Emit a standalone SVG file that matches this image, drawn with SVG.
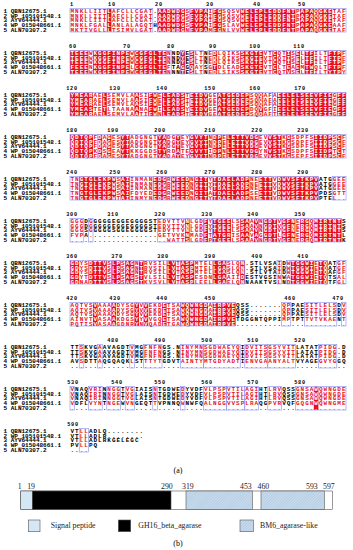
<svg xmlns="http://www.w3.org/2000/svg" xmlns:xlink="http://www.w3.org/1999/xlink" width="353" height="550" viewBox="0 0 353 550">
<style>
.nm{font-family:"Liberation Mono",monospace;font-size:6px;font-weight:bold;fill:#000}
.sq{font-family:"Liberation Mono",monospace;font-size:6px;font-weight:bold;letter-spacing:1px}
.num{font-family:"Liberation Mono",monospace;font-size:5.2px;font-weight:bold;letter-spacing:0.8px;text-anchor:middle;fill:#000}
.fr{fill:none;stroke:#8a8af0;stroke-width:0.6}
.lab{font-family:"Liberation Serif",serif;font-size:7.8px;fill:#222}
.cap{font-family:"Liberation Serif",serif;font-size:8px;fill:#000;text-anchor:middle}
.seg{stroke:#555;stroke-width:0.6}
</style>
<defs>
<pattern id="hatch" patternUnits="userSpaceOnUse" width="2" height="2" patternTransform="rotate(45)"><rect width="2" height="2" fill="#c8ddef"/><line x1="0" y1="0" x2="0" y2="2" stroke="#8ea8bf" stroke-width="0.6"/></pattern>
<g id="names" class="nm">
<text x="3.5" y="13">1 QBN12675.1</text>
<text x="3.5" y="17.67">2 WP_105101548.1</text>
<text x="3.5" y="22.33">3 AYV64444.1</text>
<text x="3.5" y="27">4 WP_015048661.1</text>
<text x="3.5" y="31.67">5 ALN70307.2</text>
</g>
<g id="s0" class="sq">
<text x="70.5" y="13">MNKLLIITLAFCLLCGAT.AADWDGSFVPAIFGSQSVWELEPLEDDFNTPAPAQGKETAF</text>
<text x="70.5" y="17.67">MNKLLIITLAFCLLCGAT.AADWDGSFVPAIFGSQSVWELEPLEDDFNTPAPAQGKETAF</text>
<text x="70.5" y="22.33">MNKLLIITLAFCLLCGAT.AADWDGSFVPAIFGSQSVWELEPLEDDFNTPAPAQGKETAF</text>
<text x="70.5" y="27">MNKLFGALLANLALAGQTHAADWDGSFVPAIFGSLAVWELEPLEDDFNTPAPAQGKEAAF</text>
<text x="70.5" y="31.67">MKTIVGLLLTSIMVLGAT.AADWDGNFVPAMFGNLVVWELEPLEDDFNTPAPAQGKETAF</text>
</g>
<g id="s1" class="sq">
<text x="70.5" y="13">TEEEWKGGFINPEWCGFGLTENNDYESLTNEDLQIKSSKGTEVTCQTISELTFILTFTPF</text>
<text x="70.5" y="17.67">TEEEWKGGFINPEWCGFGLTENNDYESLTNEDLQIKSSKGTEVTCQTISELTFILTFTPF</text>
<text x="70.5" y="22.33">TEEEWKGGFINPEWCGFGLTENNDYESLTNEDLQIKSSKGTEVTCQTISELTFILTFTPF</text>
<text x="70.5" y="27">FEEENKGGFINPELCGFGLTEFTAGGQAYSGTDLEADSKGTEVTCLTEAEMTWQLTFTPF</text>
<text x="70.5" y="31.67">TEEEWKGGFINPEWCGFGLTENNNTESLTNEDLSIKSSKGTEVTCQTVSELTFILTYTPY</text>
</g>
<g id="s2" class="sq">
<text x="70.5" y="13">YMEARAELSEMVLAASIFWELEADSTEIDVGEATGEDEPSQQAFAEELELSEEVFIEGFF</text>
<text x="70.5" y="17.67">YMEARAELSEMVLAASIFWELEADSTEIDVGEATGEDEPSQQAFAEELELSEEVFIEGFF</text>
<text x="70.5" y="22.33">YMEARAELSEMVLAASIFWELEADSTEIDVGEATGEDEPSQQAFAEELELSEEVFIEGFF</text>
<text x="70.5" y="27">YMEASTETLTAANAANAFWILEADSYEIDVGEATGEDEPDQVGFIEELELSEEVFIEGFF</text>
<text x="70.5" y="31.67">YMEARAELSEMVLAATIFWNLEADSTEIDVGEATGEDEPSQQAFTEELELSEEVFIEGFF</text>
</g>
<g id="s3" class="sq">
<text x="70.5" y="13">QDTQPFDAGESYTADGNGTYADGYEYGVYTNDPELETTVDGEVVSTKGSDPFSIIDPSCF</text>
<text x="70.5" y="17.67">QDTQPFDAGESYTADGNGTYADGYEYGVYTNDPELETTVDGEVVSTKGSDPFSIIDPSCF</text>
<text x="70.5" y="22.33">QDTQPFDAGESYTADGNGTYADGYEYGVYTNDPELETTVDGEVVSTKGSDPFSIIDPSCF</text>
<text x="70.5" y="27">QDTQPKDSGEAYTKKGGDSTYRDATEGVYTIDPNLETTVDGYNVSTKGSDPFSIIDPTCT</text>
<text x="70.5" y="31.67">QDTQPFDAGESYTADGNGTYADAYEYGVYTNDPELETTVDGEVVSTKGSEPFSIIDPSCF</text>
</g>
<g id="s4" class="sq">
<text x="70.5" y="13">TNGTGLEKPWSAIINMANEDGRWEEDNGITYTDAELADPNEETTVDWVSFTKPVATGGEE</text>
<text x="70.5" y="17.67">TNGTGLEKPWSAIINMANEDGRWEEDNGITYTDAELADPNEETTVDWVSFTKPVATGGEE</text>
<text x="70.5" y="22.33">TNGTGLEKPWSAIINMANEDGRWEEDNGITYTDAELADPNEETTVDWVSFTKPVATGGEE</text>
<text x="70.5" y="27">TNGTGLEKPWSAIFDYEDEDGRWEEDNGITATDAELADPSEETTVDWVSFTKPVPDSGTT</text>
<text x="70.5" y="31.67">TNGTGLEKPWTAIINMYNEDGRWEEDNGITYTDAELADPNEETTVDWVSFTKPVPTEL..</text>
</g>
<g id="s5" class="sq">
<text x="70.5" y="13">GGGDGGGGGEGGEGGGGSTEDVTTVNLGDFYTGEELSSAAVNGDTVGFNERGQMIRTNTS</text>
<text x="70.5" y="17.67">GGGDGGGGGEGGEGGGGSTEDVTTVNLGDFYTGEELSSAAVNGDTVGFNERGQMIRTNTS</text>
<text x="70.5" y="22.33">GGGSGGGGGSGGEGGGGSTEDVTTVNLGDFYTGEELSSAAVNGDTVGFNERGQMIRTNTS</text>
<text x="70.5" y="27">FVPA...............GETVVKNMADFTATGRISAAVAGGDTLGFNERGQMIRTNTL</text>
<text x="70.5" y="31.67">.....................WATTSLGDFPTGEELSSAAVNGDTVGFNERGQMIRTNTK</text>
</g>
<g id="s6" class="sq">
<text x="70.5" y="13">GDYSDTTVSLPSAGNTRVSILLVTASPMTELLGASLQN.STLVSAIDWTGGWIETQATGF</text>
<text x="70.5" y="17.67">GDYSDTTVSLPSAGNTRVSILLVTASPMTELLGASLQN.STLVSAIDWTGGWIETQATGF</text>
<text x="70.5" y="22.33">GDYSDTTVSLPSAGNTRVSILLVTASPMTELLGASLQN.STLVTAIDWTGGWIETQAFGF</text>
<text x="70.5" y="27">GDYTDTTVSLPSAGSTVLSILLVTASPESDNLGAAIIDESTVGSINWATGGWIETQTSAL</text>
<text x="70.5" y="31.67">GDNADTTVSLPSAGSTKVSVLLVTASPLEELLGAELQNNAAKTVSLNDTGGWIETQTFGL</text>
</g>
<g id="s7" class="sq">
<text x="70.5" y="13">AQTVSVAAAADYSGYVVEKDETSAWQWNGDAIRPVEQSS.......QPPAESITLELSDV</text>
<text x="70.5" y="17.67">AQTVSVAAAADYSGYVVEKDETSAWQWNGDAIRPVEQSS.......QPPAESITLELSDV</text>
<text x="70.5" y="22.33">AQTVSVAAAADYSGYVVEKDETSAWQWNGDAIRPVEQSS.......QPPAESITLELSDV</text>
<text x="70.5" y="27">AINVTVASAAKDGSYYVVGQETSAWQWNGDAIRPVETDGGNTQPPIMPTPTTVTVKAENT</text>
<text x="70.5" y="31.67">PQTISVASAAGDNRYNVQADETGAWQWNGDAIRPVE........................</text>
</g>
<g id="s8" class="sq">
<text x="70.5" y="13">TTSKVGAAVAGDTVMGFNFNGS.NINYMNSGDWAEYQIDVITSGSYVITLATATPIDG.D</text>
<text x="70.5" y="17.67">TTSKVGAAVAGDTVMGFNFNGS.NINYMNSGDWAEYQIDVITSGSYVITLATATPIDG.D</text>
<text x="70.5" y="22.33">TTSKVGAAVAGDTVMGFNFNGS.NINYMNSGDWAEYQIDVITSGSYVITLATATPIDG.D</text>
<text x="70.5" y="27">AVSDTTAQGQAQKLSTTTYTGDVTAINTYMTGDYADTIENVGAANYALTVYAGEGVYGGQ</text>
<text x="70.5" y="31.67">............................................................</text>
</g>
<g id="s9" class="sq">
<text x="70.5" y="13">VNAQVRINNGGTVGIAISNTGDWEDYVDFVLPSPVTILAGIHTLRVQSSGNSAWQWNGDE</text>
<text x="70.5" y="17.67">VNAQIRINNGGTVGLAISNTGDWEDYVDFVLPSPVTILAGIHTLRVQSSGNSAWQWNGDE</text>
<text x="70.5" y="22.33">VNAQIRINNGGTVGLAISNTGDWEDYVDFVLPSPVTILAGIHTLRVQSSGNSAWQWNGDE</text>
<text x="70.5" y="27">VDFLVYNTNGEWVNGEQTTVPNNQWNWFQALNGGVVSPLRAQGPVRVQFGQGNWQWNGME</text>
<text x="70.5" y="31.67">............................................................</text>
</g>
<g id="s10" class="sq">
<text x="70.5" y="13">VTLLADLQ........</text>
<text x="70.5" y="17.67">VTLLADLR........</text>
<text x="70.5" y="22.33">VTLLADLRKGELEGC</text>
<text x="70.5" y="27">PVLLPQ</text>
<text x="70.5" y="31.67">....</text>
</g>
<clipPath id="r0"><rect x="106.8" y="0" width="4.6" height="40"/><rect x="157.4" y="0" width="27.6" height="40"/><rect x="189.6" y="0" width="18.4" height="40"/><rect x="212.6" y="0" width="9.2" height="40"/><rect x="240.2" y="0" width="55.2" height="40"/><rect x="300" y="0" width="13.8" height="40"/><rect x="318.4" y="0" width="13.8" height="40"/></clipPath>
<clipPath id="b0"><rect x="70" y="0" width="36.8" height="40"/><rect x="111.4" y="0" width="41.4" height="40"/><rect x="185" y="0" width="4.6" height="40"/><rect x="208" y="0" width="4.6" height="40"/><rect x="221.8" y="0" width="18.4" height="40"/><rect x="295.4" y="0" width="4.6" height="40"/><rect x="313.8" y="0" width="4.6" height="40"/><rect x="332.2" y="0" width="13.8" height="40"/></clipPath>
<clipPath id="r1"><rect x="70" y="0" width="18.4" height="40"/><rect x="93" y="0" width="36.8" height="40"/><rect x="134.4" y="0" width="32.2" height="40"/><rect x="180.4" y="0" width="4.6" height="40"/><rect x="189.6" y="0" width="4.6" height="40"/><rect x="212.6" y="0" width="4.6" height="40"/><rect x="240.2" y="0" width="23" height="40"/><rect x="272.4" y="0" width="4.6" height="40"/><rect x="286.2" y="0" width="4.6" height="40"/><rect x="295.4" y="0" width="4.6" height="40"/><rect x="304.6" y="0" width="9.2" height="40"/><rect x="327.6" y="0" width="13.8" height="40"/></clipPath>
<clipPath id="b1"><rect x="88.4" y="0" width="4.6" height="40"/><rect x="129.8" y="0" width="4.6" height="40"/><rect x="166.6" y="0" width="4.6" height="40"/><rect x="194.2" y="0" width="9.2" height="40"/><rect x="208" y="0" width="4.6" height="40"/><rect x="217.2" y="0" width="23" height="40"/><rect x="263.2" y="0" width="9.2" height="40"/><rect x="277" y="0" width="9.2" height="40"/><rect x="290.8" y="0" width="4.6" height="40"/><rect x="300" y="0" width="4.6" height="40"/><rect x="313.8" y="0" width="13.8" height="40"/><rect x="341.4" y="0" width="4.6" height="40"/></clipPath>
<clipPath id="r2"><rect x="70" y="0" width="23" height="40"/><rect x="102.2" y="0" width="4.6" height="40"/><rect x="134.4" y="0" width="4.6" height="40"/><rect x="148.2" y="0" width="9.2" height="40"/><rect x="162" y="0" width="23" height="40"/><rect x="189.6" y="0" width="18.4" height="40"/><rect x="217.2" y="0" width="32.2" height="40"/><rect x="258.6" y="0" width="4.6" height="40"/><rect x="277" y="0" width="55.2" height="40"/><rect x="336.8" y="0" width="9.2" height="40"/></clipPath>
<clipPath id="b2"><rect x="93" y="0" width="9.2" height="40"/><rect x="106.8" y="0" width="27.6" height="40"/><rect x="139" y="0" width="9.2" height="40"/><rect x="157.4" y="0" width="4.6" height="40"/><rect x="185" y="0" width="4.6" height="40"/><rect x="208" y="0" width="9.2" height="40"/><rect x="249.4" y="0" width="9.2" height="40"/><rect x="263.2" y="0" width="13.8" height="40"/><rect x="332.2" y="0" width="4.6" height="40"/></clipPath>
<clipPath id="r3"><rect x="70" y="0" width="23" height="40"/><rect x="97.6" y="0" width="4.6" height="40"/><rect x="106.8" y="0" width="4.6" height="40"/><rect x="120.6" y="0" width="9.2" height="40"/><rect x="157.4" y="0" width="9.2" height="40"/><rect x="175.8" y="0" width="4.6" height="40"/><rect x="189.6" y="0" width="18.4" height="40"/><rect x="212.6" y="0" width="9.2" height="40"/><rect x="226.4" y="0" width="32.2" height="40"/><rect x="267.8" y="0" width="13.8" height="40"/><rect x="286.2" y="0" width="4.6" height="40"/><rect x="313.8" y="0" width="18.4" height="40"/><rect x="336.8" y="0" width="4.6" height="40"/></clipPath>
<clipPath id="b3"><rect x="93" y="0" width="4.6" height="40"/><rect x="102.2" y="0" width="4.6" height="40"/><rect x="111.4" y="0" width="9.2" height="40"/><rect x="129.8" y="0" width="27.6" height="40"/><rect x="166.6" y="0" width="9.2" height="40"/><rect x="180.4" y="0" width="9.2" height="40"/><rect x="208" y="0" width="4.6" height="40"/><rect x="221.8" y="0" width="4.6" height="40"/><rect x="258.6" y="0" width="9.2" height="40"/><rect x="281.6" y="0" width="4.6" height="40"/><rect x="290.8" y="0" width="23" height="40"/><rect x="332.2" y="0" width="4.6" height="40"/><rect x="341.4" y="0" width="4.6" height="40"/></clipPath>
<clipPath id="r4"><rect x="79.2" y="0" width="36.8" height="40"/><rect x="120.6" y="0" width="9.2" height="40"/><rect x="152.8" y="0" width="13.8" height="40"/><rect x="171.2" y="0" width="18.4" height="40"/><rect x="194.2" y="0" width="13.8" height="40"/><rect x="212.6" y="0" width="36.8" height="40"/><rect x="258.6" y="0" width="13.8" height="40"/><rect x="277" y="0" width="41.4" height="40"/></clipPath>
<clipPath id="b4"><rect x="70" y="0" width="9.2" height="40"/><rect x="116" y="0" width="4.6" height="40"/><rect x="129.8" y="0" width="23" height="40"/><rect x="166.6" y="0" width="4.6" height="40"/><rect x="189.6" y="0" width="4.6" height="40"/><rect x="208" y="0" width="4.6" height="40"/><rect x="249.4" y="0" width="9.2" height="40"/><rect x="272.4" y="0" width="4.6" height="40"/><rect x="332.2" y="0" width="13.8" height="40"/></clipPath>
<clipPath id="r5"><rect x="185" y="0" width="4.6" height="40"/><rect x="203.4" y="0" width="4.6" height="40"/><rect x="212.6" y="0" width="18.4" height="40"/><rect x="240.2" y="0" width="9.2" height="40"/><rect x="254" y="0" width="4.6" height="40"/><rect x="263.2" y="0" width="13.8" height="40"/><rect x="281.6" y="0" width="13.8" height="40"/><rect x="300" y="0" width="9.2" height="40"/><rect x="313.8" y="0" width="27.6" height="40"/></clipPath>
<clipPath id="b5"><rect x="70" y="0" width="13.8" height="40"/><rect x="88.4" y="0" width="4.6" height="40"/><rect x="157.4" y="0" width="27.6" height="40"/><rect x="189.6" y="0" width="13.8" height="40"/><rect x="208" y="0" width="4.6" height="40"/><rect x="231" y="0" width="9.2" height="40"/><rect x="249.4" y="0" width="4.6" height="40"/><rect x="258.6" y="0" width="4.6" height="40"/><rect x="277" y="0" width="4.6" height="40"/><rect x="295.4" y="0" width="4.6" height="40"/><rect x="309.2" y="0" width="4.6" height="40"/></clipPath>
<clipPath id="r6"><rect x="70" y="0" width="9.2" height="40"/><rect x="88.4" y="0" width="18.4" height="40"/><rect x="111.4" y="0" width="9.2" height="40"/><rect x="125.2" y="0" width="9.2" height="40"/><rect x="139" y="0" width="4.6" height="40"/><rect x="166.6" y="0" width="9.2" height="40"/><rect x="180.4" y="0" width="13.8" height="40"/><rect x="212.6" y="0" width="13.8" height="40"/><rect x="240.2" y="0" width="4.6" height="40"/><rect x="290.8" y="0" width="23" height="40"/><rect x="318.4" y="0" width="9.2" height="40"/></clipPath>
<clipPath id="b6"><rect x="79.2" y="0" width="9.2" height="40"/><rect x="106.8" y="0" width="4.6" height="40"/><rect x="120.6" y="0" width="4.6" height="40"/><rect x="134.4" y="0" width="4.6" height="40"/><rect x="143.6" y="0" width="23" height="40"/><rect x="175.8" y="0" width="4.6" height="40"/><rect x="194.2" y="0" width="18.4" height="40"/><rect x="226.4" y="0" width="13.8" height="40"/><rect x="277" y="0" width="4.6" height="40"/><rect x="286.2" y="0" width="4.6" height="40"/><rect x="313.8" y="0" width="4.6" height="40"/><rect x="336.8" y="0" width="9.2" height="40"/></clipPath>
<clipPath id="r7"><rect x="93" y="0" width="4.6" height="40"/><rect x="111.4" y="0" width="4.6" height="40"/><rect x="134.4" y="0" width="4.6" height="40"/><rect x="143.6" y="0" width="4.6" height="40"/><rect x="162" y="0" width="4.6" height="40"/><rect x="180.4" y="0" width="27.6" height="40"/><rect x="212.6" y="0" width="23" height="40"/></clipPath>
<clipPath id="b7"><rect x="70" y="0" width="23" height="40"/><rect x="97.6" y="0" width="13.8" height="40"/><rect x="116" y="0" width="18.4" height="40"/><rect x="139" y="0" width="4.6" height="40"/><rect x="148.2" y="0" width="13.8" height="40"/><rect x="166.6" y="0" width="13.8" height="40"/><rect x="208" y="0" width="4.6" height="40"/><rect x="281.6" y="0" width="9.2" height="40"/><rect x="304.6" y="0" width="32.2" height="40"/><rect x="341.4" y="0" width="4.6" height="40"/></clipPath>
<clipPath id="b8"><rect x="79.2" y="0" width="4.6" height="40"/><rect x="97.6" y="0" width="4.6" height="40"/><rect x="129.8" y="0" width="4.6" height="40"/><rect x="143.6" y="0" width="18.4" height="40"/><rect x="180.4" y="0" width="23" height="40"/><rect x="203.4" y="0" width="36.8" height="40"/><rect x="244.8" y="0" width="23" height="40"/><rect x="267.8" y="0" width="27.6" height="40"/><rect x="318.4" y="0" width="18.4" height="40"/></clipPath>
<clipPath id="r9"><rect x="313.8" y="0" width="4.6" height="40"/></clipPath>
<clipPath id="b9"><rect x="70" y="0" width="4.6" height="40"/><rect x="88.4" y="0" width="13.8" height="40"/><rect x="106.8" y="0" width="13.8" height="40"/><rect x="125.2" y="0" width="9.2" height="40"/><rect x="152.8" y="0" width="4.6" height="40"/><rect x="180.4" y="0" width="4.6" height="40"/><rect x="203.4" y="0" width="23" height="40"/><rect x="226.4" y="0" width="18.4" height="40"/><rect x="244.8" y="0" width="13.8" height="40"/><rect x="267.8" y="0" width="13.8" height="40"/><rect x="295.4" y="0" width="18.4" height="40"/><rect x="318.4" y="0" width="18.4" height="40"/><rect x="336.8" y="0" width="9.2" height="40"/></clipPath>
<clipPath id="b10"><rect x="79.2" y="0" width="9.2" height="40"/></clipPath>
</defs>
<rect width="353" height="550" fill="#fff"/>

<g id="alignment-a">
<g id="block1">
<text class="num" x="72" y="6">1</text><text class="num" x="112" y="6">10</text><text class="num" x="159" y="6">20</text><text class="num" x="210" y="6">30</text><text class="num" x="257" y="6">40</text><text class="num" x="302" y="6">50</text>
<use href="#names"/>
<use href="#s0"/>
<rect x="70" y="8.67" width="276" height="23.33" fill="#fff" clip-path="url(#b0)"/>
<rect x="70" y="8.67" width="276" height="23.33" fill="#e8101e" clip-path="url(#r0)"/>
<use href="#s0" fill="#e8101e" clip-path="url(#b0)"/>
<use href="#s0" fill="#fff" clip-path="url(#r0)"/>
<rect class="fr" x="70" y="8.67" width="82.8" height="23.33"/><rect class="fr" x="157.4" y="8.67" width="188.6" height="23.33"/>
</g>
<g id="block2" transform="translate(0,42)">
<text class="num" x="73" y="6">60</text><text class="num" x="127" y="6">70</text><text class="num" x="171" y="6">80</text><text class="num" x="213" y="6">90</text><text class="num" x="255" y="6">100</text><text class="num" x="299" y="6">110</text>
<use href="#names"/>
<use href="#s1"/>
<rect x="70" y="8.67" width="276" height="23.33" fill="#fff" clip-path="url(#b1)"/>
<rect x="70" y="8.67" width="276" height="23.33" fill="#e8101e" clip-path="url(#r1)"/>
<use href="#s1" fill="#e8101e" clip-path="url(#b1)"/>
<use href="#s1" fill="#fff" clip-path="url(#r1)"/>
<rect class="fr" x="70" y="8.67" width="101.2" height="23.33"/><rect class="fr" x="180.4" y="8.67" width="4.6" height="23.33"/><rect class="fr" x="189.6" y="8.67" width="13.8" height="23.33"/><rect class="fr" x="208" y="8.67" width="138" height="23.33"/>
</g>
<g id="block3" transform="translate(0,84)">
<text class="num" x="72" y="6">120</text><text class="num" x="115" y="6">130</text><text class="num" x="162" y="6">140</text><text class="num" x="210" y="6">150</text><text class="num" x="255" y="6">160</text><text class="num" x="300" y="6">170</text>
<use href="#names"/>
<use href="#s2"/>
<rect x="70" y="8.67" width="276" height="23.33" fill="#fff" clip-path="url(#b2)"/>
<rect x="70" y="8.67" width="276" height="23.33" fill="#e8101e" clip-path="url(#r2)"/>
<use href="#s2" fill="#e8101e" clip-path="url(#b2)"/>
<use href="#s2" fill="#fff" clip-path="url(#r2)"/>
<rect class="fr" x="70" y="8.67" width="87.4" height="23.33"/><rect class="fr" x="157.4" y="8.67" width="115" height="23.33"/><rect class="fr" x="272.4" y="8.67" width="73.6" height="23.33"/>
</g>
<g id="block4" transform="translate(0,126)">
<text class="num" x="72" y="6">180</text><text class="num" x="113" y="6">190</text><text class="num" x="160" y="6">200</text><text class="num" x="210" y="6">210</text><text class="num" x="257" y="6">220</text><text class="num" x="303" y="6">230</text>
<use href="#names"/>
<use href="#s3"/>
<rect x="70" y="8.67" width="276" height="23.33" fill="#fff" clip-path="url(#b3)"/>
<rect x="70" y="8.67" width="276" height="23.33" fill="#e8101e" clip-path="url(#r3)"/>
<use href="#s3" fill="#e8101e" clip-path="url(#b3)"/>
<use href="#s3" fill="#fff" clip-path="url(#r3)"/>
<rect class="fr" x="70" y="8.67" width="59.8" height="23.33"/><rect class="fr" x="129.8" y="8.67" width="59.8" height="23.33"/><rect class="fr" x="189.6" y="8.67" width="156.4" height="23.33"/>
</g>
<g id="block5" transform="translate(0,168)">
<text class="num" x="72" y="6">240</text><text class="num" x="115" y="6">250</text><text class="num" x="162" y="6">260</text><text class="num" x="210" y="6">270</text><text class="num" x="257" y="6">280</text><text class="num" x="303" y="6">290</text>
<use href="#names"/>
<use href="#s4"/>
<rect x="70" y="8.67" width="276" height="23.33" fill="#fff" clip-path="url(#b4)"/>
<rect x="70" y="8.67" width="276" height="23.33" fill="#e8101e" clip-path="url(#r4)"/>
<use href="#s4" fill="#e8101e" clip-path="url(#b4)"/>
<use href="#s4" fill="#fff" clip-path="url(#r4)"/>
<rect class="fr" x="70" y="8.67" width="59.8" height="23.33"/><rect class="fr" x="129.8" y="8.67" width="188.6" height="23.33"/><rect class="fr" x="332.2" y="8.67" width="13.8" height="23.33"/>
</g>
<g id="block6" transform="translate(0,210)">
<text class="num" x="72" y="6">300</text><text class="num" x="113" y="6">310</text><text class="num" x="160" y="6">320</text><text class="num" x="207" y="6">330</text><text class="num" x="253" y="6">340</text><text class="num" x="300" y="6">350</text>
<use href="#names"/>
<use href="#s5"/>
<rect x="70" y="8.67" width="276" height="23.33" fill="#fff" clip-path="url(#b5)"/>
<rect x="70" y="8.67" width="276" height="23.33" fill="#e8101e" clip-path="url(#r5)"/>
<use href="#s5" fill="#e8101e" clip-path="url(#b5)"/>
<use href="#s5" fill="#fff" clip-path="url(#r5)"/>
<rect class="fr" x="70" y="8.67" width="13.8" height="23.33"/><rect class="fr" x="88.4" y="8.67" width="4.6" height="23.33"/><rect class="fr" x="157.4" y="8.67" width="55.2" height="23.33"/><rect class="fr" x="212.6" y="8.67" width="128.8" height="23.33"/>
</g>
<g id="block7" transform="translate(0,252)">
<text class="num" x="72" y="6">360</text><text class="num" x="117" y="6">370</text><text class="num" x="163" y="6">380</text><text class="num" x="210" y="6">390</text><text class="num" x="257" y="6">400</text><text class="num" x="303" y="6">410</text>
<use href="#names"/>
<use href="#s6"/>
<rect x="70" y="8.67" width="276" height="23.33" fill="#fff" clip-path="url(#b6)"/>
<rect x="70" y="8.67" width="276" height="23.33" fill="#e8101e" clip-path="url(#r6)"/>
<use href="#s6" fill="#e8101e" clip-path="url(#b6)"/>
<use href="#s6" fill="#fff" clip-path="url(#r6)"/>
<rect class="fr" x="70" y="8.67" width="73.6" height="23.33"/><rect class="fr" x="143.6" y="8.67" width="101.2" height="23.33"/><rect class="fr" x="277" y="8.67" width="4.6" height="23.33"/><rect class="fr" x="286.2" y="8.67" width="41.4" height="23.33"/><rect class="fr" x="336.8" y="8.67" width="9.2" height="23.33"/>
</g>
<g id="block8" transform="translate(0,294)">
<text class="num" x="72" y="6">420</text><text class="num" x="115" y="6">430</text><text class="num" x="162" y="6">440</text><text class="num" x="210" y="6">450</text><text class="num" x="290" y="6">460</text><text class="num" x="338" y="6">470</text>
<use href="#names"/>
<use href="#s7"/>
<rect x="70" y="8.67" width="276" height="23.33" fill="#fff" clip-path="url(#b7)"/>
<rect x="70" y="8.67" width="276" height="23.33" fill="#e8101e" clip-path="url(#r7)"/>
<use href="#s7" fill="#e8101e" clip-path="url(#b7)"/>
<use href="#s7" fill="#fff" clip-path="url(#r7)"/>
<rect class="fr" x="70" y="8.67" width="110.4" height="23.33"/><rect class="fr" x="180.4" y="8.67" width="55.2" height="23.33"/><rect class="fr" x="281.6" y="8.67" width="9.2" height="23.33"/><rect class="fr" x="304.6" y="8.67" width="32.2" height="23.33"/><rect class="fr" x="341.4" y="8.67" width="4.6" height="23.33"/>
</g>
<g id="block9" transform="translate(0,336)">
<text class="num" x="113" y="6">480</text><text class="num" x="160" y="6">490</text><text class="num" x="207" y="6">500</text><text class="num" x="253" y="6">510</text><text class="num" x="300" y="6">520</text>
<use href="#names"/>
<use href="#s8"/>
<rect x="70" y="8.67" width="276" height="23.33" fill="#fff" clip-path="url(#b8)"/>
<use href="#s8" fill="#e8101e" clip-path="url(#b8)"/>
<rect class="fr" x="79.2" y="8.67" width="4.6" height="23.33"/><rect class="fr" x="97.6" y="8.67" width="4.6" height="23.33"/><rect class="fr" x="129.8" y="8.67" width="4.6" height="23.33"/><rect class="fr" x="143.6" y="8.67" width="18.4" height="23.33"/><rect class="fr" x="180.4" y="8.67" width="23" height="23.33"/><rect class="fr" x="203.4" y="8.67" width="36.8" height="23.33"/><rect class="fr" x="244.8" y="8.67" width="23" height="23.33"/><rect class="fr" x="267.8" y="8.67" width="27.6" height="23.33"/><rect class="fr" x="318.4" y="8.67" width="18.4" height="23.33"/>
</g>
<g id="block10" transform="translate(0,378)">
<text class="num" x="73" y="6">530</text><text class="num" x="117" y="6">540</text><text class="num" x="160" y="6">550</text><text class="num" x="207" y="6">560</text><text class="num" x="253" y="6">570</text><text class="num" x="300" y="6">580</text>
<use href="#names"/>
<use href="#s9"/>
<rect x="70" y="8.67" width="276" height="23.33" fill="#fff" clip-path="url(#b9)"/>
<rect x="70" y="8.67" width="276" height="23.33" fill="#e8101e" clip-path="url(#r9)"/>
<use href="#s9" fill="#e8101e" clip-path="url(#b9)"/>
<use href="#s9" fill="#fff" clip-path="url(#r9)"/>
<rect class="fr" x="70" y="8.67" width="4.6" height="23.33"/><rect class="fr" x="88.4" y="8.67" width="13.8" height="23.33"/><rect class="fr" x="106.8" y="8.67" width="13.8" height="23.33"/><rect class="fr" x="125.2" y="8.67" width="9.2" height="23.33"/><rect class="fr" x="152.8" y="8.67" width="4.6" height="23.33"/><rect class="fr" x="180.4" y="8.67" width="4.6" height="23.33"/><rect class="fr" x="203.4" y="8.67" width="23" height="23.33"/><rect class="fr" x="226.4" y="8.67" width="18.4" height="23.33"/><rect class="fr" x="244.8" y="8.67" width="13.8" height="23.33"/><rect class="fr" x="267.8" y="8.67" width="13.8" height="23.33"/><rect class="fr" x="295.4" y="8.67" width="50.6" height="23.33"/>
</g>
<g id="block11" transform="translate(0,420)">
<text class="num" x="73" y="6">590</text>
<use href="#names"/>
<use href="#s10"/>
<rect x="70" y="8.67" width="80" height="23.33" fill="#fff" clip-path="url(#b10)"/>
<use href="#s10" fill="#e8101e" clip-path="url(#b10)"/>
<rect class="fr" x="79.2" y="8.67" width="9.2" height="23.33"/>
</g>
</g>
<text class="cap" x="178" y="473">(a)</text>

<g id="domain-map-b">
<g id="bar">
<rect class="seg" x="20.7" y="491" width="311.6" height="18.5" fill="#fff"/>
<rect class="seg" x="20.7" y="491" width="11.6" height="18.5" fill="#d5e6f4"/>
<rect class="seg" x="32.3" y="491" width="138.7" height="18.5" fill="#000"/>
<rect class="seg" x="186" y="491" width="66.3" height="18.5" fill="url(#hatch)"/>
<rect class="seg" x="261" y="491" width="63.3" height="18.5" fill="url(#hatch)"/>
</g>
<g id="positions" class="lab">
<text x="17.8" y="488.5">1</text>
<text x="27.2" y="488.5">19</text>
<text x="161" y="488.5">290</text>
<text x="182" y="488.5">319</text>
<text x="240" y="488.5">453</text>
<text x="257.5" y="488.5">460</text>
<text x="306" y="488.5">593</text>
<text x="323" y="488.5">597</text>
</g>
<g id="legend">
<rect class="seg" x="28.3" y="520" width="11.7" height="11.7" fill="#d5e6f4"/>
<text class="lab" x="50.7" y="528.3" font-size="8">Signal peptide</text>
<rect class="seg" x="118.3" y="520" width="12.4" height="11.7" fill="#000"/>
<text class="lab" x="138.3" y="528.3" font-size="8">GH16_beta_agarase</text>
<rect class="seg" x="240" y="520" width="13.3" height="11.7" fill="url(#hatch)"/>
<text class="lab" x="260" y="528.3" font-size="8">BM6_agarase-like</text>
</g>
</g>
<text class="cap" x="178" y="546">(b)</text>
</svg>
